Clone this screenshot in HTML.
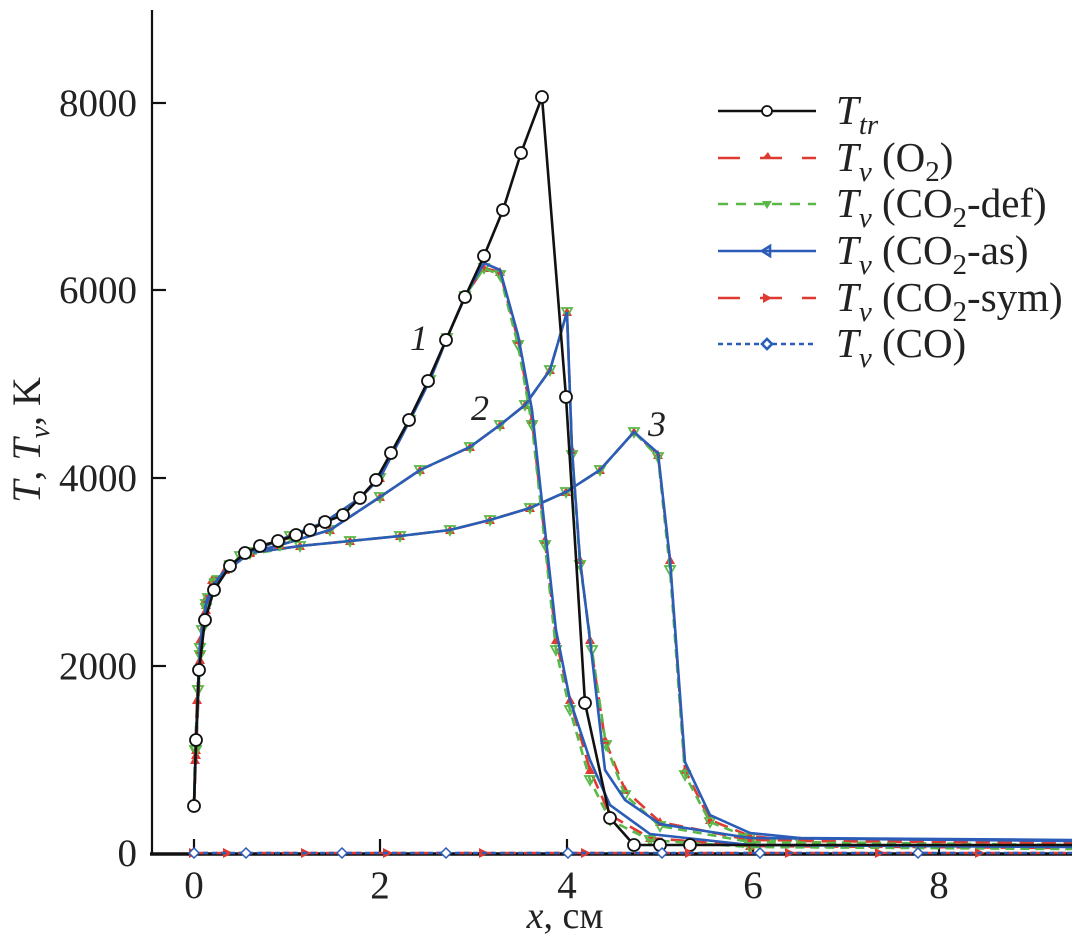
<!DOCTYPE html>
<html><head><meta charset="utf-8"><style>
html,body{margin:0;padding:0;background:#fff}
svg text{font-family:"Liberation Serif",serif;fill:#222}
</style></head><body>
<svg width="1084" height="940" viewBox="0 0 1084 940" xmlns="http://www.w3.org/2000/svg">
<defs>
<marker id="mc" markerWidth="16" markerHeight="16" refX="8" refY="8" markerUnits="userSpaceOnUse"><circle cx="8" cy="8" r="6" fill="#fff" stroke="#111" stroke-width="1.8"/></marker>
<marker id="mtr" markerWidth="14" markerHeight="14" refX="7" refY="7" markerUnits="userSpaceOnUse"><path d="M7 2 L12 11 L2 11Z" fill="#e03a30"/></marker>
<marker id="mtg" markerWidth="14" markerHeight="14" refX="7" refY="7" markerUnits="userSpaceOnUse"><path d="M2 3 L12 3 L7 12Z" fill="none" stroke="#5ab848" stroke-width="1.8"/></marker>
<marker id="mtb" markerWidth="14" markerHeight="14" refX="7" refY="7" markerUnits="userSpaceOnUse"><path d="M2 7 L12 2 L12 12Z" fill="none" stroke="#2a5cb8" stroke-width="1.8"/></marker>
<marker id="mts" markerWidth="14" markerHeight="14" refX="7" refY="7" markerUnits="userSpaceOnUse"><path d="M12 7 L2 2 L2 12Z" fill="#e03a30"/></marker>
<marker id="md" markerWidth="14" markerHeight="14" refX="7" refY="7" markerUnits="userSpaceOnUse"><path d="M7 2 L12 7 L7 12 L2 7Z" fill="#fff" stroke="#2a5cb8" stroke-width="1.5"/></marker>
</defs>

<line x1="152" y1="10" x2="152" y2="855" stroke="#111" stroke-width="2.2"/>
<line x1="150" y1="854" x2="1072" y2="854" stroke="#111" stroke-width="3.5"/>
<g stroke="#111" stroke-width="2.2">
<line x1="152" y1="103" x2="166" y2="103"/><line x1="152" y1="290" x2="166" y2="290"/>
<line x1="152" y1="478" x2="166" y2="478"/><line x1="152" y1="666" x2="166" y2="666"/>
<line x1="194" y1="853" x2="194" y2="839"/><line x1="380" y1="853" x2="380" y2="839"/>
<line x1="567" y1="853" x2="567" y2="839"/><line x1="753" y1="853" x2="753" y2="839"/>
<line x1="939" y1="853" x2="939" y2="839"/>
</g>
<g font-size="39" text-anchor="end">
<text x="137" y="116">8000</text><text x="137" y="303">6000</text>
<text x="137" y="491">4000</text><text x="137" y="679">2000</text><text x="137" y="866">0</text>
</g>
<g font-size="39" text-anchor="middle">
<text x="194" y="898">0</text><text x="380" y="898">2</text><text x="567" y="898">4</text>
<text x="753" y="898">6</text><text x="939" y="898">8</text>
</g>
<text x="565" y="928" font-size="38" text-anchor="middle"><tspan font-style="italic">x</tspan>, см</text>
<text transform="translate(40 440) rotate(-90)" font-size="40" text-anchor="middle"><tspan font-style="italic">T</tspan>, <tspan font-style="italic">T</tspan><tspan font-style="italic" font-size="28" dy="9">v</tspan><tspan dy="-9">,  K</tspan></text>

<g fill="none" stroke-width="2.6">
<polyline points="194,806 195,760 197,700 200,640 205,600 212,580 225,570 250,553 300,546 350,541 400,536 450,530 490,520 530,508 566,492 600,470 634,432 658,455 670,560 685,770 710,820 750,836 800,841 1072,843" stroke="#e03a30" stroke-dasharray="14 8" marker-mid="url(#mtr)"/>
<polyline points="194,806 195,750 198,690 202,630 208,598 218,580 240,556 300,546 350,541 400,536 450,530 490,520 530,508 566,492 600,470 634,432 658,457 670,570 685,775 710,822 750,838 800,842 1072,845" stroke="#5ab848" stroke-dasharray="9 6" marker-mid="url(#mtg)"/>
<polyline points="194,806 196,740 199,660 203,620 210,592 222,574 250,553 300,546 350,541 400,536 450,530 490,520 530,508 566,492 600,470 634,432 658,453 670,560 685,762 710,815 750,833 800,838 1072,840" stroke="#2a5cb8"/>
<polyline points="194,806 196,750 200,650 206,605 215,583 230,565 250,553 280,545 330,530 380,497 420,470 470,447 500,425 525,405 550,370 567,312 572,450 580,560 590,640 605,740 625,790 660,822 750,840 1072,843" stroke="#e03a30" stroke-dasharray="14 8" marker-mid="url(#mtr)"/>
<polyline points="194,806 196,745 200,648 206,604 215,583 230,565 250,553 280,545 330,530 380,497 420,470 470,447 500,425 525,405 550,370 567,312 572,455 580,565 592,650 606,745 625,795 660,826 750,842 1072,846" stroke="#5ab848" stroke-dasharray="9 6" marker-mid="url(#mtg)"/>
<polyline points="194,806 196,742 200,645 206,602 215,582 230,565 250,553 280,545 330,530 380,497 420,470 470,447 500,425 525,405 550,370 567,312 572,450 580,560 590,640 605,770 625,800 660,824 750,838 1072,841" stroke="#2a5cb8"/>
<polyline points="194,806 196,755 200,660 206,610 215,585 230,566 250,552 290,536 325,522 360,498 380,478 410,420 430,380 447,338 465,296 484,268 500,272 518,340 532,420 545,540 556,640 570,700 590,770 610,815 650,838 750,846 1072,848" stroke="#e03a30" stroke-dasharray="14 8" marker-mid="url(#mtr)"/>
<polyline points="194,806 196,750 200,655 206,608 215,584 230,566 250,552 290,536 325,522 360,498 380,478 410,420 430,380 447,338 465,296 484,268 500,275 518,345 532,425 545,545 556,650 570,710 590,780 610,820 650,840 750,847 1072,849" stroke="#5ab848" stroke-dasharray="9 6" marker-mid="url(#mtg)"/>
<polyline points="194,806 196,745 200,650 206,605 215,583 230,566 250,552 290,536 325,522 360,498 380,478 410,420 430,380 447,338 465,296 484,263 500,270 518,335 532,410 545,530 556,630 570,700 590,760 610,805 650,834 750,845 1072,847" stroke="#2a5cb8"/>
<polyline points="194,806 196,740 199,670 205,620 214,590 230,566 245,553 260,546 278,541 296,535 310,530 325,522 343,515 360,498 376,480 391,453 409,420 428,381 446,340 465,297 484,256 503,210 521,153 542,97 566,397 585,703 610,818 634,845 660,845 690,845 1072,845" stroke="#111" marker-start="url(#mc)" marker-mid="url(#mc)"/>
<polyline points="194,853 228,853 306,853 388,853 484,853 586,853 690,853 790,853 880,853 980,853 1072,853" stroke="#e03a30" stroke-dasharray="14 8" marker-mid="url(#mts)" marker-start="url(#mts)"/>
<polyline points="194,853 246,853 342,853 446,853 568,853 662,853 760,853 918,853 1072,853" stroke="#2a5cb8" stroke-dasharray="5 4" marker-mid="url(#md)" marker-start="url(#md)"/>
</g>

<g font-size="36" font-style="italic">
<text x="410" y="350">1</text><text x="471" y="420">2</text><text x="648" y="436">3</text>
</g>

<g fill="none" stroke-width="2.6">
<line x1="718" y1="111" x2="816" y2="111" stroke="#111"/><circle cx="767" cy="111" r="5" fill="#fff" stroke="#111" stroke-width="1.8"/>
<line x1="718" y1="158" x2="816" y2="158" stroke="#e03a30" stroke-dasharray="22 20"/><path d="M762 159 L768 152 L772 159Z" fill="#e03a30" stroke="none"/>
<line x1="718" y1="204" x2="816" y2="204" stroke="#5ab848" stroke-dasharray="10 8"/><path d="M762 201 L772 201 L767 209Z" fill="#5ab848" stroke="none"/>
<line x1="718" y1="251" x2="816" y2="251" stroke="#2a5cb8"/><path d="M762 251 L770 246 L770 256Z" fill="none" stroke="#2a5cb8"/>
<line x1="718" y1="298" x2="816" y2="298" stroke="#e03a30" stroke-dasharray="22 20"/><path d="M772 298 L763 293 L763 303Z" fill="#e03a30" stroke="none"/>
<line x1="718" y1="344" x2="816" y2="344" stroke="#2a5cb8" stroke-dasharray="5 4"/><path d="M767 339 L772 344 L767 349 L762 344Z" fill="#fff" stroke="#2a5cb8"/>
</g>
<g font-size="41">
<text x="836" y="124"><tspan font-style="italic">T</tspan><tspan font-style="italic" font-size="29" dy="10">tr</tspan></text>
<text x="836" y="171"><tspan font-style="italic">T</tspan><tspan font-style="italic" font-size="29" dy="10">v</tspan><tspan dy="-10"> (O</tspan><tspan font-size="29" dy="10">2</tspan><tspan dy="-10">)</tspan></text>
<text x="836" y="217"><tspan font-style="italic">T</tspan><tspan font-style="italic" font-size="29" dy="10">v</tspan><tspan dy="-10"> (CO</tspan><tspan font-size="29" dy="10">2</tspan><tspan dy="-10">-def)</tspan></text>
<text x="836" y="264"><tspan font-style="italic">T</tspan><tspan font-style="italic" font-size="29" dy="10">v</tspan><tspan dy="-10"> (CO</tspan><tspan font-size="29" dy="10">2</tspan><tspan dy="-10">-as)</tspan></text>
<text x="836" y="311"><tspan font-style="italic">T</tspan><tspan font-style="italic" font-size="29" dy="10">v</tspan><tspan dy="-10"> (CO</tspan><tspan font-size="29" dy="10">2</tspan><tspan dy="-10">-sym)</tspan></text>
<text x="836" y="357"><tspan font-style="italic">T</tspan><tspan font-style="italic" font-size="29" dy="10">v</tspan><tspan dy="-10"> (CO)</tspan></text>
</g>
</svg>
</body></html>
